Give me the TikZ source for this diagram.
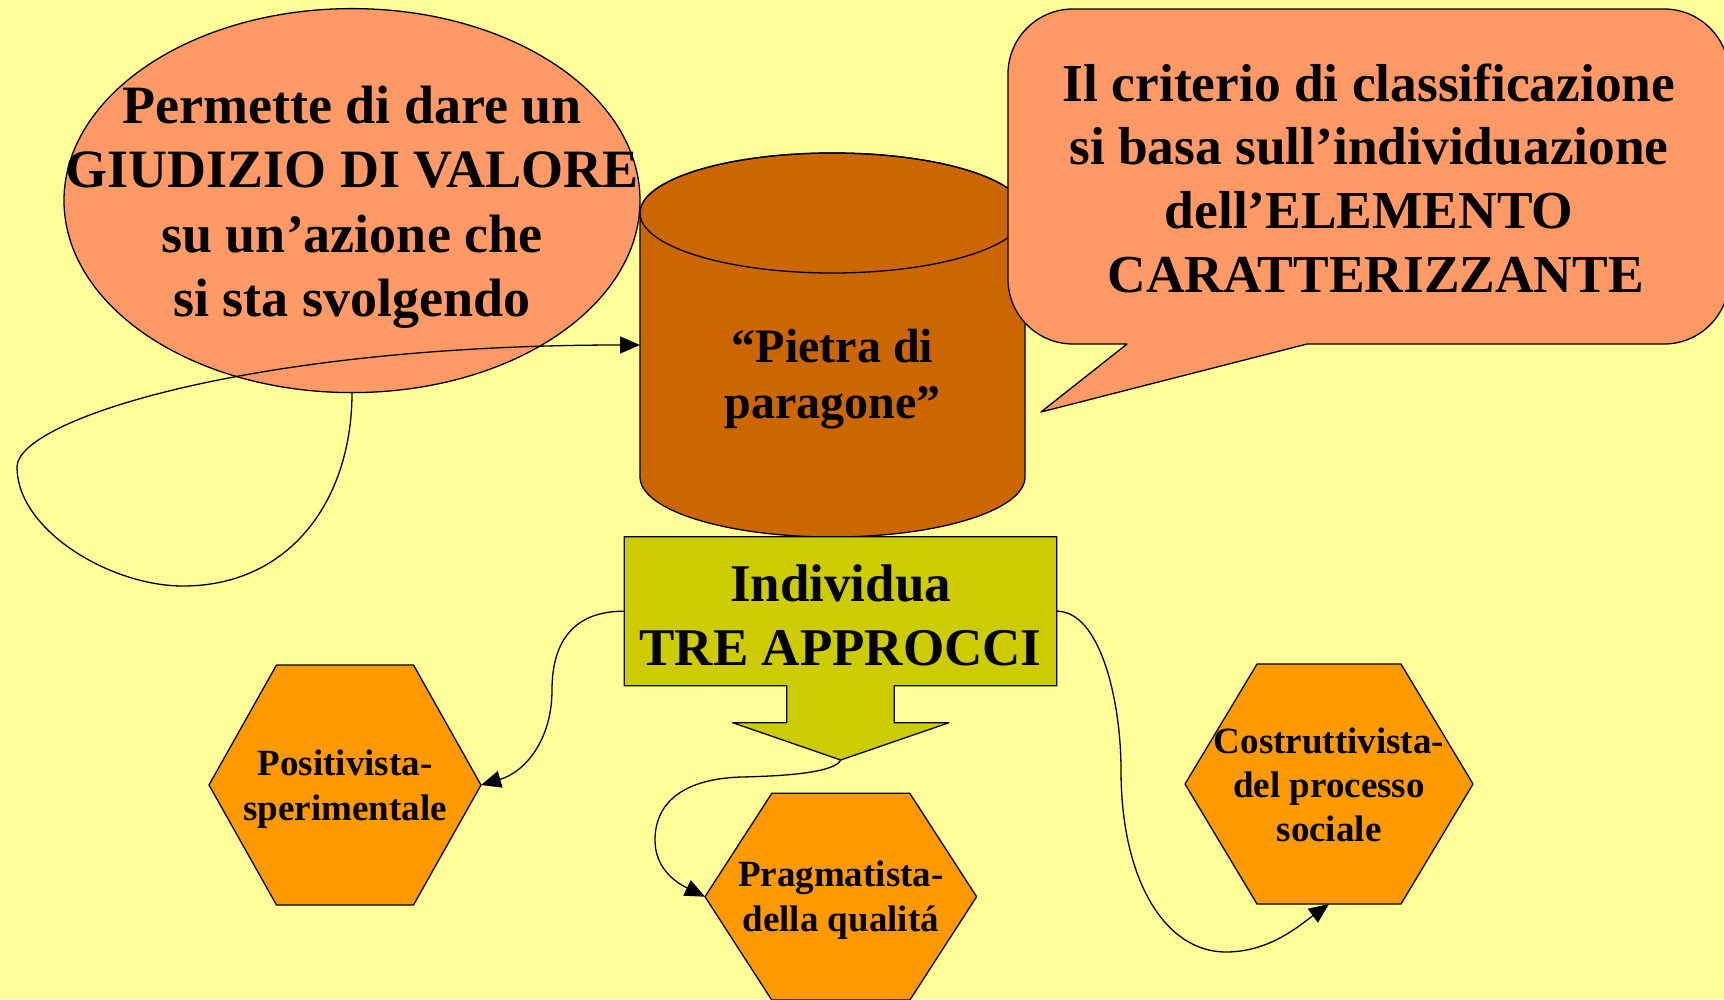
\documentclass[tikz,border=0pt]{standalone}
\usepackage{fontspec}
\setmainfont{Liberation Serif}
\usetikzlibrary{shapes.geometric,arrows.meta}
\definecolor{colBg}{HTML}{FFFF99}
\definecolor{colSalmon}{HTML}{FF9966}
\definecolor{colRust}{HTML}{CC6600}
\definecolor{colOlive}{HTML}{CCCC00}
\definecolor{colHex}{HTML}{FF9900}
\newcommand\mltext[2]{\raisebox{#1}[0pt][0pt]{\makebox[0pt]{\begin{tabular}[t]{@{}c@{}}#2\end{tabular}}}}
\tikzset{
  shp/.style={draw=black, line width=1.3pt, line join=round},
  conn/.style={draw=black, line width=1.3pt, -{Triangle[length=20pt,width=17pt]}},
  tnode/.style={inner sep=0pt, outer sep=0pt, text=black},
  fbig/.style={font=\fontsize{54}{64.5}\selectfont\bfseries},
  fcyl/.style={font=\fontsize{48}{56}\selectfont\bfseries},
  fhex/.style={font=\fontsize{37}{45}\selectfont\bfseries},
}
\begin{document}
\begin{tikzpicture}[x=1pt,y=1pt]
\useasboundingbox (0,0) rectangle (1724,-999);
\clip (0,0) rectangle (1724,-999);
\fill[colBg] (0,0) rectangle (1724,-999);

% left ellipse
\node[tnode, ellipse, shp, fill=colSalmon, minimum width=576pt, minimum height=384pt, fbig] (ell) at (352,-200.6)
  {\mltext{77.6pt}{Permette di dare un\\GIUDIZIO DI VALORE\\su un’azione che\\si sta svolgendo}};

% cylinder
\filldraw[shp, fill=colRust] (640,-213) -- (640,-477)
  arc[start angle=180, end angle=360, x radius=192.5, y radius=60]
  -- (1025,-213)
  arc[start angle=0, end angle=180, x radius=192.5, y radius=60] -- cycle;
\draw[shp] (832.5,-213) ellipse [x radius=192.5, y radius=60];
\node[tnode, minimum width=385pt, minimum height=384pt, fcyl] (cyl) at (832.5,-345)
  {\mltext{-17pt}{“Pietra di\\paragone”}};

% speech bubble
\filldraw[shp, fill=colSalmon] (1073,-9) -- (1664,-9)
  arc[start angle=90, end angle=0, radius=65] -- (1729,-279)
  arc[start angle=0, end angle=-90, radius=65] -- (1307,-344) -- (1041,-412) -- (1127,-344) -- (1073,-344)
  arc[start angle=-90, end angle=-180, radius=65] -- (1008,-74)
  arc[start angle=180, end angle=90, radius=65] -- cycle;
\node[tnode, minimum width=700pt, minimum height=335pt, font=\fontsize{53.4}{63.8}\selectfont\bfseries] (bub) at (1369,-176.5)
  {\mltext{75.5pt}{Il criterio di classificazione\\si basa sull’individuazione\\dell’ELEMENTO\\\hspace*{0.25em}CARATTERIZZANTE}};

% down arrow box
\filldraw[shp, fill=colOlive] (624.3,-536.7) -- (1056.7,-536.7) -- (1056.7,-685.7) -- (894.3,-685.7)
  -- (894.3,-722.7) -- (949,-722.7) -- (840.7,-760) -- (732.7,-722.7) -- (786.7,-722.7)
  -- (786.7,-685.7) -- (624.3,-685.7) -- cycle;
\node[tnode, minimum width=432.4pt, minimum height=149pt, font=\fontsize{53}{64}\selectfont\bfseries] (ind) at (840.5,-611.2)
  {\mltext{9.5pt}{Individua\\TRE APPROCCI}};
\coordinate (tip) at (840.7,-760);

% hexagons
\filldraw[shp, fill=colHex] (209,-785) -- (276.5,-665) -- (413.5,-665) -- (481,-785) -- (413.5,-905) -- (276.5,-905) -- cycle;
\node[tnode, minimum width=272pt, minimum height=240pt, fhex] (pos) at (345,-785)
  {\mltext{10pt}{Positivista-\\sperimentale}};

\filldraw[shp, fill=colHex] (705,-896.7) -- (771.8,-793.3) -- (909.8,-793.3) -- (976.6,-896.7) -- (909.8,-1000.1) -- (771.8,-1000.1) -- cycle;
\node[tnode, minimum width=271.6pt, minimum height=206.8pt, fhex] (pra) at (840.8,-896.7)
  {\mltext{10pt}{Pragmatista-\\della qualitá}};

\filldraw[shp, fill=colHex] (1185,-784) -- (1257,-664) -- (1401,-664) -- (1473,-784) -- (1401,-904) -- (1257,-904) -- cycle;
\node[tnode, minimum width=288pt, minimum height=240pt, font=\fontsize{37}{44.2}\selectfont\bfseries] (cos) at (1329,-784)
  {\mltext{30.7pt}{Costruttivista-\\del processo\\sociale}};

% connectors
\draw[conn] (ell.south) .. controls (352,-500) and (290,-586) .. (183,-586)
  .. controls (110,-586) and (17,-530) .. (17,-467)
  .. controls (17,-420) and (250,-345) .. (cyl.west);
\draw[conn] (ind.west) .. controls (575,-611) and (552,-640) .. (552,-690)
  .. controls (552,-740) and (525,-772) .. (pos.east);
\draw[conn] (tip) .. controls (835,-772) and (790,-776) .. (741,-777)
  .. controls (680,-779) and (655,-805) .. (655,-840)
  .. controls (655,-868) and (675,-882) .. (pra.west);
\draw[conn] (ind.east) .. controls (1100,-611) and (1121,-700) .. (1121,-770)
  .. controls (1121,-880) and (1165,-952) .. (1226,-952)
  .. controls (1270,-952) and (1300,-925) .. (cos.south);
\end{tikzpicture}
\end{document}
